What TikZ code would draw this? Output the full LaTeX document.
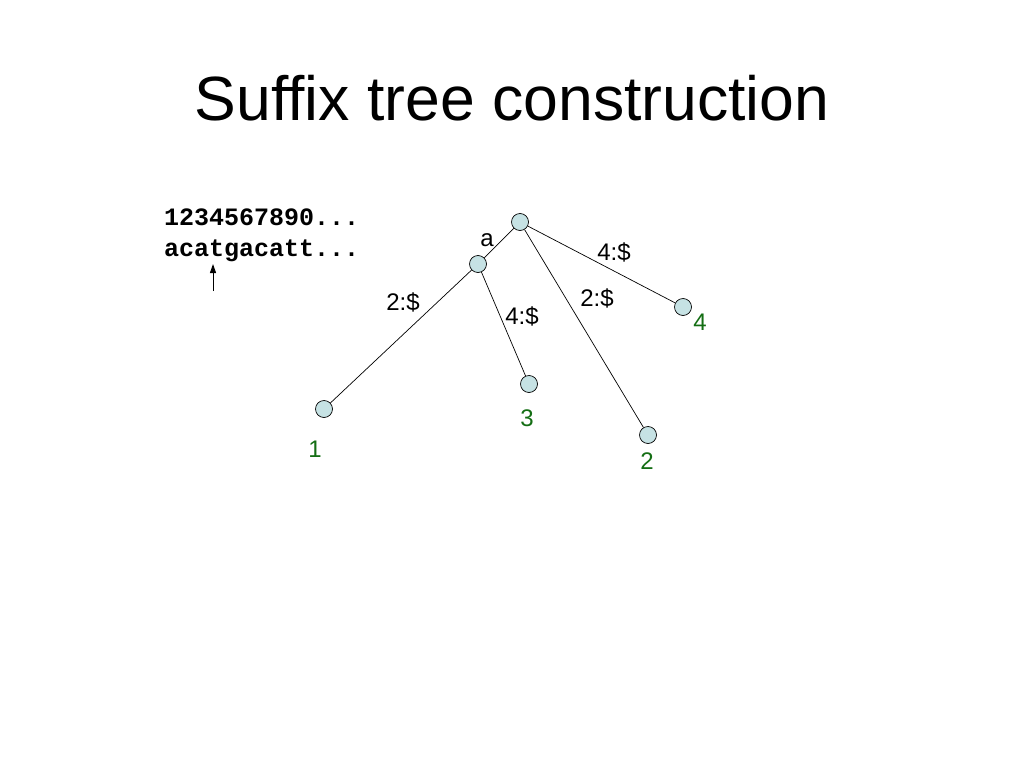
\documentclass[tikz,border=0pt]{standalone}
\usepackage{fontspec}
\setmainfont{Liberation Sans}
\newfontfamily\monob{Liberation Mono}
\usetikzlibrary{arrows.meta}
\definecolor{nodefill}{RGB}{198,226,228}
\definecolor{leafgreen}{RGB}{20,110,20}
\begin{document}
\begin{tikzpicture}[x=1pt,y=-1pt,
  tn/.style={circle,draw=black,fill=nodefill,line width=0.7pt,minimum size=17pt,inner sep=0pt},
  edge/.style={line width=0.7pt},
  lbl/.style={font=\fontsize{24}{27}\selectfont,inner sep=0pt},
  leaf/.style={lbl,text=leafgreen}]
\useasboundingbox (0,0) rectangle (1024,768);
\node[font=\fontsize{62.5}{68}\selectfont,inner sep=0pt] (title) at (512,98) {Suffix tree construction};
\node[font=\monob\bfseries\fontsize{25}{28}\selectfont,anchor=base west,inner sep=0pt] (l1) at (164,225) {1234567890...};
\node[font=\monob\bfseries\fontsize{25}{28}\selectfont,anchor=base west,inner sep=0pt] (l2) at (164,256) {acatgacatt...};
\coordinate (ab) at (213,291);
\coordinate (at) at (213,264);
\draw[line width=1pt,-{Triangle[length=9pt,width=6pt]}] (ab) -- (at);

\node[tn] (r) at (520,222) {};
\node[tn] (a) at (478,264) {};
\node[tn] (n1) at (324,409) {};
\node[tn] (n3) at (529,384) {};
\node[tn] (n2) at (648,435) {};
\node[tn] (n4) at (683,307) {};
\draw[edge] (r) -- (a);
\draw[edge] (a) -- (n1);
\draw[edge] (a) -- (n3);
\draw[edge] (r) -- (n2);
\draw[edge] (r) -- (n4);

\node[lbl] (la) at (487,240) {a};
\node[lbl] (e1) at (403,302) {2:\$};
\node[lbl] (e3) at (522,316) {4:\$};
\node[lbl] (e2) at (597,298) {2:\$};
\node[lbl] (e4) at (614,252) {4:\$};
\node[leaf] (t1) at (315,449) {1};
\node[leaf] (t3) at (527,418) {3};
\node[leaf] (t2) at (647,461) {2};
\node[leaf] (t4) at (700,322) {4};
\end{tikzpicture}
\end{document}
